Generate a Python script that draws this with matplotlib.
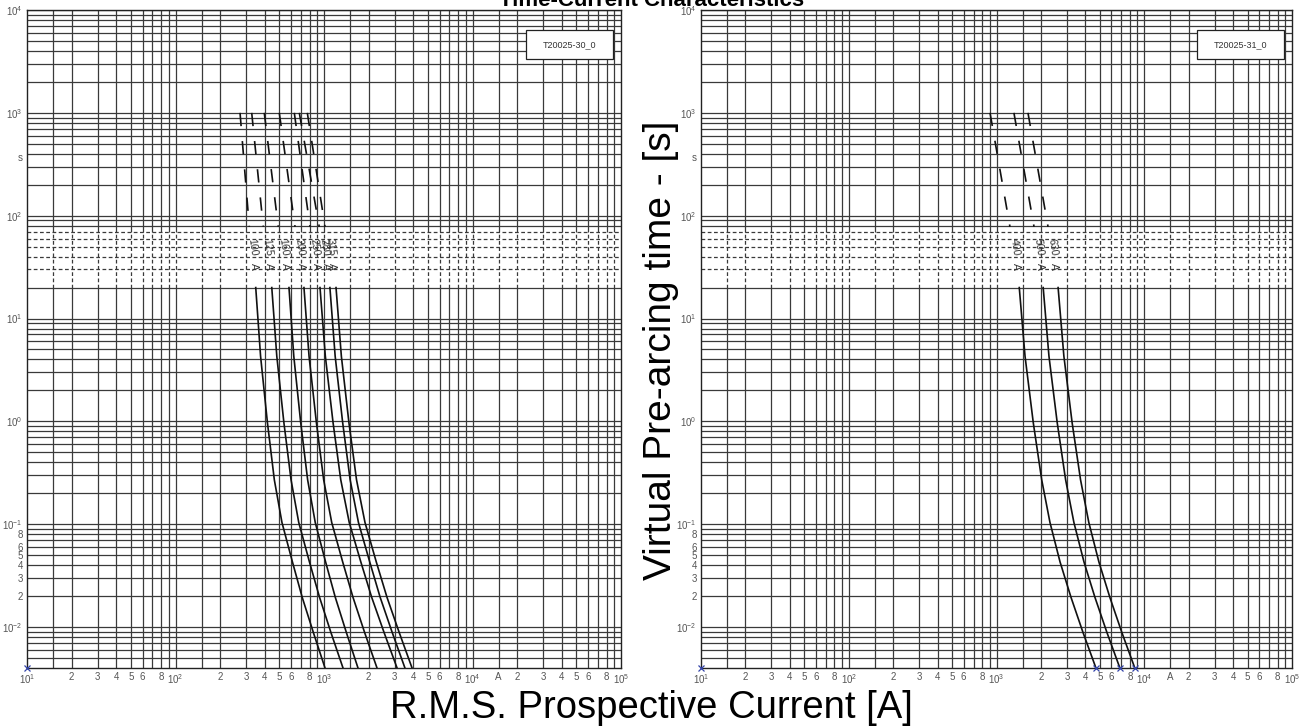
import matplotlib.pyplot as plt
from matplotlib.patches import Rectangle
from matplotlib.ticker import NullLocator

plt.rcParams['font.family'] = ['Liberation Sans', 'DejaVu Sans']
plt.rcParams['mathtext.default'] = 'regular'

# time points (s) of the solid branch, shared by all curves
t_solid = [20, 4.3, 0.97, 0.27, 0.104, 0.043, 0.0195, 0.0089, 0.004]
# dashed (upper) branch goes from 1000 s down to about 78 s
t_dash = [1000, 78]

left_ratings = ['100', '125', '160', '200', '250', '280', '315']
left_solid = [
    [347, 374, 416, 463, 521, 613, 713, 847, 1016],
    [445, 481, 537, 600, 676, 798, 933, 1112, 1343],
    [581, 626, 697, 776, 873, 1025, 1191, 1413, 1694],
    [733, 793, 889, 995, 1127, 1336, 1567, 1875, 2275],
    [940, 1021, 1151, 1297, 1479, 1770, 2094, 2535, 3105],
    [1096, 1189, 1336, 1500, 1706, 2032, 2388, 2877, 3508],
    [1205, 1309, 1472, 1656, 1888, 2249, 2655, 3206, 3917],
]
left_dash = [[272, 314], [326, 390], [396, 492], [500, 638],
             [631, 805], [682, 929], [772, 1016]]

right_ratings = ['400', '500', '630']
right_solid = [
    [1426, 1560, 1774, 2023, 2301, 2692, 3192, 3846, 4710],
    [2070, 2265, 2576, 2937, 3341, 3909, 4635, 5584, 6840],
    [2612, 2858, 3250, 3706, 4215, 4932, 5848, 7046, 8630],
]
right_dash = [[904, 1233], [1312, 1795], [1633, 2233]]

# axis tick labels
y_ticks = [1e4, 1e3, 370, 1e2, 1e1, 1, 0.1, 0.08, 0.06, 0.05, 0.04, 0.03, 0.02, 0.01]
y_labels = ['$10^4$', '$10^3$', 's', '$10^2$', '$10^1$', '$10^0$', '$10^{-1}$',
            '8', '6', '5', '4', '3', '2', '$10^{-2}$']
x_ticks, x_labels = [], []
for d in range(1, 5):
    for k, lab in [(1, '$10^%d$' % d), (2, '2'), (3, '3'), (4, '4'), (5, '5'), (6, '6'), (8, '8')]:
        x_ticks.append(k * 10 ** d)
        x_labels.append(lab)
x_ticks += [15000, 1e5]
x_labels += ['A', '$10^5$']

T_MIN, T_MAX = 4e-3, 1e4
I_MIN, I_MAX = 10, 1e5
GRID = '#3a3a3a'


def draw_panel(ax, solid, dash, ratings, tag, end_marks):
    ax.set_xscale('log')
    ax.set_yscale('log')
    ax.set_xlim(I_MIN, I_MAX)
    ax.set_ylim(T_MIN, T_MAX)

    # horizontal grid, dashed inside the 30..70 s band
    ys = [k * 10.0 ** d for d in range(-3, 4) for k in range(1, 10)] + [1e4]
    for y in ys:
        if y < T_MIN * 1.01:
            continue
        ls = (0, (3, 2)) if 29 < y < 71 else '-'
        ax.axhline(y, color=GRID, lw=0.9, ls=ls, zorder=1)
    # vertical grid incl. 1.5 lines, dashed in the label band
    xs = [k * 10.0 ** d for d in range(1, 5) for k in (1, 1.5, 2, 3, 4, 5, 6, 7, 8, 9)]
    xs = xs[1:]
    ax.vlines(xs, T_MIN, 20, color=GRID, lw=0.9, zorder=1)
    ax.vlines(xs, 20, 70, color=GRID, lw=0.9, linestyles=[(0, (3, 2))], zorder=1)
    ax.vlines(xs, 70, T_MAX, color=GRID, lw=0.9, zorder=1)

    for cur, dc, rat in zip(solid, dash, ratings):
        ax.plot(cur, t_solid, color='#111111', lw=1.2, zorder=3)
        ax.plot(dc, t_dash, color='#111111', lw=1.2, ls=(0, (8, 9)), zorder=3)
        xl = (dc[1] * cur[0]) ** 0.5
        ax.text(xl, 49, rat, rotation=-82, fontsize=7.5, color='#333333',
                ha='center', va='center', zorder=4)
        ax.text(xl * 1.02, 32, 'A', rotation=-90, fontsize=7.5, color='#333333',
                ha='center', va='center', zorder=4)
        if end_marks:
            ax.plot(cur[-1], t_solid[-1], 'x', color='#3344aa', ms=4, mew=0.9,
                    clip_on=False, zorder=5)
    ax.plot(I_MIN, T_MIN, 'x', color='#3344aa', ms=4, mew=0.9, clip_on=False, zorder=5)

    # drawing number box
    ax.add_patch(Rectangle((0.84, 0.925), 0.146, 0.044, transform=ax.transAxes,
                           facecolor='white', edgecolor='#222222', lw=0.9, zorder=6))
    ax.text(0.913, 0.947, tag, transform=ax.transAxes, fontsize=6.5, color='#333333',
            ha='center', va='center', zorder=7)

    ax.set_yticks(y_ticks, y_labels)
    ax.set_xticks(x_ticks, x_labels)
    ax.yaxis.set_minor_locator(NullLocator())
    ax.xaxis.set_minor_locator(NullLocator())
    ax.tick_params(length=0, labelsize=7, labelcolor='#555555', pad=3)
    for s in ax.spines.values():
        s.set_color('#222222')
        s.set_linewidth(1.0)


fig = plt.figure(figsize=(13.03, 7.28), dpi=100)
ax1 = fig.add_axes([27 / 1303, 60 / 728, 594 / 1303, 658 / 728])
ax2 = fig.add_axes([701 / 1303, 60 / 728, 591 / 1303, 658 / 728])

draw_panel(ax1, left_solid, left_dash, left_ratings, 'T20025-30_0', False)
draw_panel(ax2, right_solid, right_dash, right_ratings, 'T20025-31_0', True)

fig.text(0.5, 1 - 6 / 728, 'Time-Current Characteristics', fontsize=16, fontweight='bold',
         ha='center', va='baseline')
fig.text(661 / 1303, 1 - 350 / 728, 'Virtual Pre-arcing time - [s]', fontsize=28,
         rotation=90, ha='center', va='center')
fig.text(651 / 1303, 1 - 708 / 728, 'R.M.S. Prospective Current [A]', fontsize=27.5,
         ha='center', va='center')

fig.savefig('out.png', dpi=100)
